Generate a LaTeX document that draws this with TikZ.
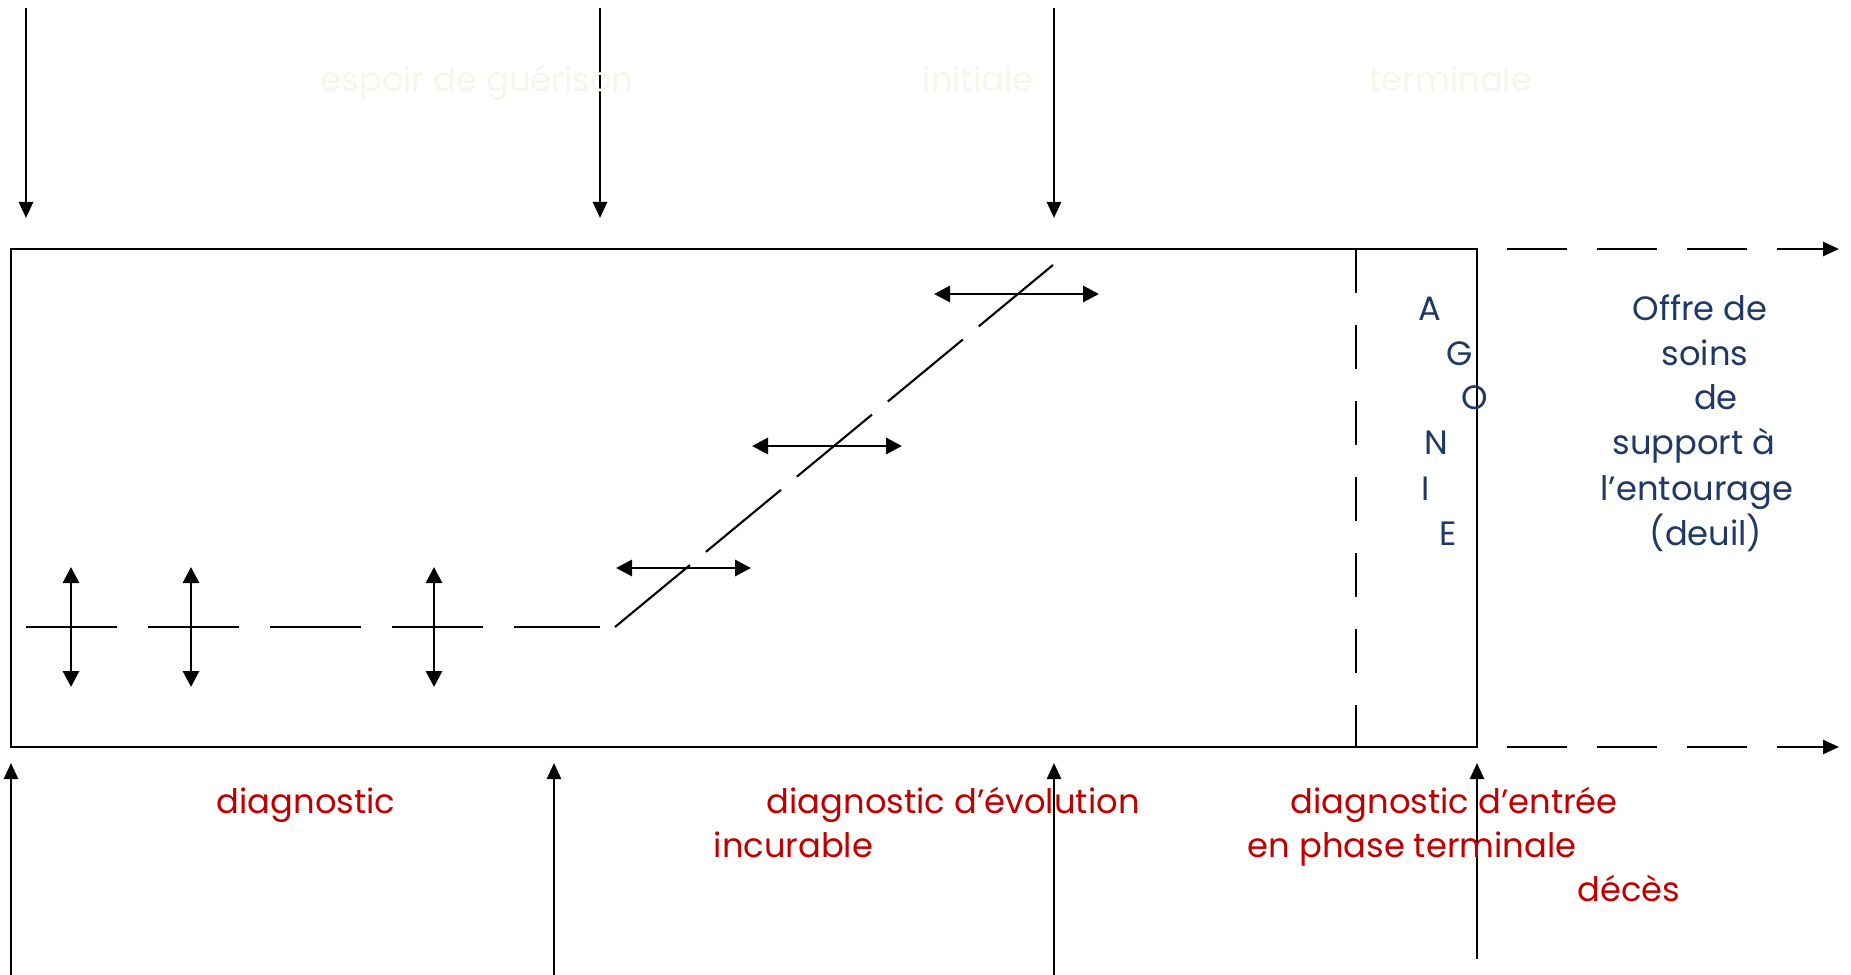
\documentclass[tikz,border=0pt]{standalone}
\usepackage{fontspec}
\setmainfont{Poppins}
\usetikzlibrary{arrows.meta, positioning}
\definecolor{rouge}{HTML}{C00000}
\definecolor{marine}{HTML}{1F3864}
\definecolor{pale}{HTML}{F6F6EC}
\tikzset{
fl/.style={-{Triangle[length=1.6mm,width=1.4mm]}, line width=0.75pt}, % single arrows on the time axis
dfl/.style={{Triangle[length=1.6mm,width=1.6mm]}-{Triangle[length=1.6mm,width=1.6mm]}, line width=0.85pt}, % double arrows
trait/.style={line width=0.6pt}, % thin lines
txt/.style={inner sep=0pt, font=\fontsize{9.6pt}{12pt}\selectfont}, % all the texts
rougetxt/.style={txt, text=rouge, anchor=base west},
bleutxt/.style={txt, text=marine, anchor=base},
paletxt/.style={txt, text=pale, anchor=base west},
}

\begin{document}
\begin{tikzpicture}[x=0.1mm, y=-0.1mm]
  \useasboundingbox (0,0) rectangle (1851,975);

  % the box and the agony limit
  \coordinate (hg) at (11,249);
  \coordinate (bd) at (1477,747);
  \draw[trait] (hg) rectangle (bd);
  \draw[trait, dash pattern=on 4.4mm off 3.2mm] (1356,249) -- (1356,747);

  % after death
  \coordinate (h1) at (1417,249);
  \coordinate (h2) at (1839,249);
  \coordinate (b1) at (1417,747);
  \coordinate (b2) at (1839,747);
  \draw[fl, dash pattern=on 6mm off 3mm] (h1) -- (h2);
  \draw[fl, dash pattern=on 6mm off 3mm] (b1) -- (b2);

  % top and bottom arrows
  \foreach \x in {26,600,1054}
    \draw[fl] (\x,8) -- (\x,218);
  \foreach \x/\y in {11/975,554/975,1054/975,1477/959}
    \draw[fl] (\x,\y) -- (\x,763);

  % curative phase
  \draw[trait, dash pattern=on 9.1mm off 3.1mm] (26,627) -- (600,627);
  \foreach \x in {71,191,434}
    \draw[dfl] (\x,567) -- (\x,687);

  % palliative phase
  \coordinate (d0) at (615,627);
  \coordinate (d1) at (1053,265);
  \draw[trait, dash pattern=on 9.73mm off 2.07mm] (d0) -- (d1);
  \draw[dfl] (616,568) -- (751,568);
  \draw[dfl] (752,446) -- (902,446);
  \draw[dfl] (934,294) -- (1099,294);

  % faint titles
  \node[paletxt] (espoir) at (320,92) {espoir de guérison};
  \node[paletxt] (init) at (922,92) {initiale};
  \node[paletxt] (term) at (1369,92) {terminale};

  % AGONIE
  \foreach \l/\x [count=\i] in {A/1430,G/1460,O/1475,N/1436,I/1426,E/1448}
    \node[bleutxt] (ag\i) at (\x,275+45*\i) {\l};
  \foreach \t/\x [count=\i] in {Offre de/1700,soins/1705,de/1716,support à/1694,l’entourage/1697,(deuil)/1706}
    \node[bleutxt] (of\i) at (\x,275+45*\i) {\t};

  % the diagnoses
  \node[rougetxt] (diag) at (216,813) {diagnostic};
  \node[rougetxt] (evol) at (766,813) {diagnostic d’évolution};
  \node[rougetxt] (incur) at (713,857) {incurable};
  \node[rougetxt] (entree) at (1290,813) {diagnostic d’entrée};
  \node[rougetxt] (phase) at (1247,857) {en phase terminale};
  \node[rougetxt] (deces) at (1577,901) {décès};
\end{tikzpicture}
\end{document}
